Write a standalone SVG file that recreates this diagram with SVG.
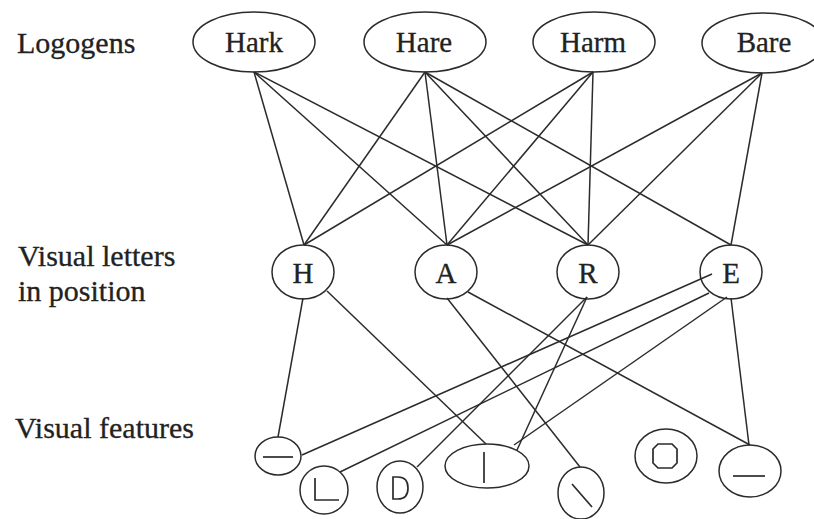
<svg xmlns="http://www.w3.org/2000/svg" width="814" height="519" viewBox="0 0 814 519">
<style>
.n{fill:none;stroke:#2b2b2b;stroke-width:1.5}
.t{font-family:"Liberation Serif","Times New Roman",serif;font-size:29px;fill:#222;stroke:#222;stroke-width:0.3}
.l{font-size:30px}
.m{text-anchor:middle}
.c line{stroke:#2b2b2b;stroke-width:1.5}
.g{fill:none;stroke:#2b2b2b;stroke-width:1.7}
</style>
<rect width="814" height="519" fill="#fff"/>
<g id="labels">
<text class="t l" x="17" y="53">Logogens</text>
<text class="t l" x="18" y="266">Visual letters</text>
<text class="t l" x="18" y="301">in position</text>
<text class="t l" x="15" y="438">Visual features</text>
</g>
<g id="connectors" class="c">
<line x1="254" y1="72" x2="304" y2="245"/>
<line x1="254" y1="72" x2="447" y2="245"/>
<line x1="254" y1="72" x2="588" y2="245"/>
<line x1="425" y1="72" x2="304" y2="245"/>
<line x1="425" y1="72" x2="447" y2="245"/>
<line x1="425" y1="72" x2="588" y2="245"/>
<line x1="425" y1="72" x2="731" y2="245"/>
<line x1="593" y1="72" x2="304" y2="245"/>
<line x1="593" y1="72" x2="447" y2="245"/>
<line x1="593" y1="72" x2="588" y2="245"/>
<line x1="762" y1="73" x2="447" y2="245"/>
<line x1="762" y1="73" x2="588" y2="245"/>
<line x1="762" y1="73" x2="731" y2="245"/>
<line x1="303" y1="298" x2="278" y2="437"/>
<line x1="327" y1="291" x2="486" y2="444"/>
<line x1="447" y1="298" x2="580" y2="467"/>
<line x1="468" y1="292" x2="750" y2="445"/>
<line x1="587" y1="297" x2="417" y2="467"/>
<line x1="587" y1="297" x2="517" y2="450"/>
<line x1="712" y1="274" x2="302" y2="455"/>
<line x1="709" y1="293" x2="340" y2="472"/>
<line x1="727" y1="297" x2="514" y2="445"/>
<line x1="731" y1="298" x2="749" y2="445"/>
</g>
<g id="logogen-hark"><ellipse class="n" cx="254" cy="42" rx="61" ry="30"/><text class="t m" x="254" y="52">Hark</text></g>
<g id="logogen-hare"><ellipse class="n" cx="425" cy="42" rx="61" ry="30"/><text class="t m" x="424" y="52">Hare</text></g>
<g id="logogen-harm"><ellipse class="n" cx="594" cy="42" rx="61" ry="30"/><text class="t m" x="593" y="52">Harm</text></g>
<g id="logogen-bare"><ellipse class="n" cx="763" cy="43" rx="61" ry="30"/><text class="t m" x="764" y="52">Bare</text></g>
<g id="letter-h"><ellipse class="n" cx="303" cy="272" rx="31" ry="27"/><text class="t m" x="303" y="283">H</text></g>
<g id="letter-a"><ellipse class="n" cx="446" cy="272" rx="31" ry="27"/><text class="t m" x="446" y="283">A</text></g>
<g id="letter-r"><ellipse class="n" cx="588" cy="272" rx="31" ry="27"/><text class="t m" x="588" y="283">R</text></g>
<g id="letter-e"><ellipse class="n" cx="731" cy="272" rx="31" ry="27"/><text class="t m" x="731" y="283">E</text></g>
<g id="feature-hbar"><ellipse class="n" cx="278" cy="456" rx="23" ry="19"/><line class="g" x1="263" y1="457" x2="293" y2="457"/></g>
<g id="feature-l"><ellipse class="n" cx="324" cy="490" rx="24" ry="24"/><path class="g" d="M315,478 V500 H339"/></g>
<g id="feature-d"><ellipse class="n" cx="400" cy="487" rx="23" ry="26"/><path class="g" d="M393,477 V499 H398 Q408,499 408,488 Q408,477 398,477 Z"/></g>
<g id="feature-vbar"><ellipse class="n" cx="487" cy="466" rx="42" ry="22"/><line class="g" x1="484" y1="452" x2="484" y2="483"/></g>
<g id="feature-backslash"><ellipse class="n" cx="581" cy="493" rx="23" ry="26"/><line class="g" x1="572" y1="484" x2="592" y2="507"/></g>
<g id="feature-o"><ellipse class="n" cx="666" cy="456" rx="31" ry="27"/><polygon class="g" points="658,444 672,444 677,449 677,463 672,468 658,468 653,463 653,449"/></g>
<g id="feature-dash"><ellipse class="n" cx="750" cy="471" rx="31" ry="26"/><line class="g" x1="733" y1="476" x2="765" y2="476"/></g>
</svg>
